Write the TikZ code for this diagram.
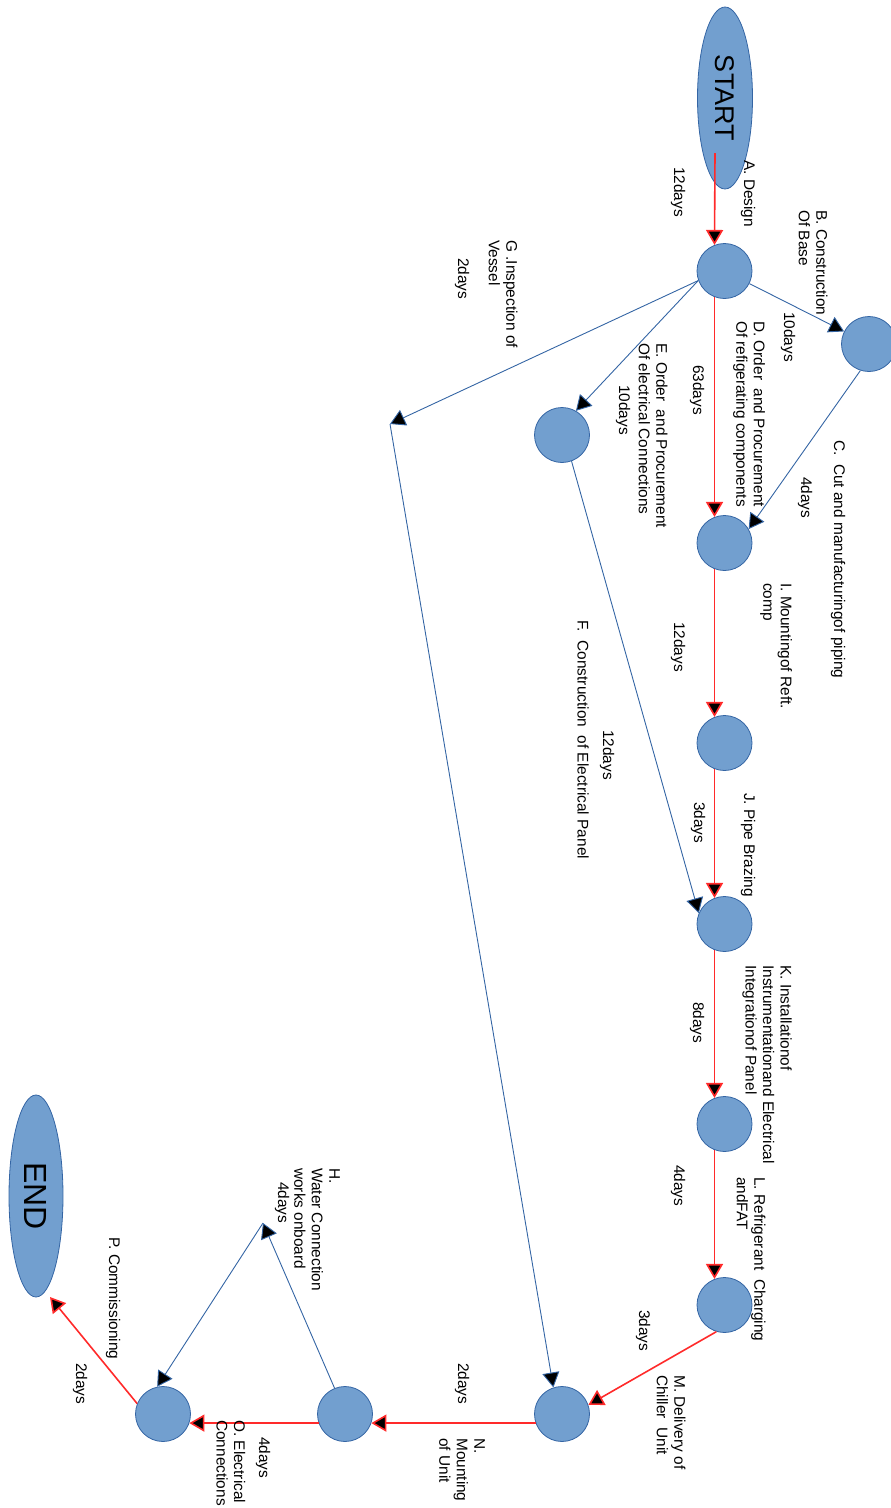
\documentclass[tikz,border=0pt]{standalone}
\usepackage{fontspec}
\setmainfont{Liberation Sans}
\usetikzlibrary{arrows.meta,shapes.geometric}
\definecolor{nodefill}{HTML}{729FCF}
\definecolor{nodeline}{HTML}{3465A4}
\definecolor{critred}{HTML}{FF2A2A}
\newcommand\lblsize{\fontsize{15.4}{17.5}\selectfont}
\begin{document}
\begin{tikzpicture}[x=1pt,y=-1pt,
  event/.style={circle,fill=nodefill,draw=nodeline,line width=0.8pt,minimum size=55pt,inner sep=0pt},
  terminal/.style={ellipse,fill=nodefill,draw=nodeline,line width=0.8pt,inner sep=0pt,rotate=-90},
  lbl/.style={rotate=-90,anchor=west,align=left,inner sep=0pt,font=\lblsize},
  crit/.style={draw=critred,line width=1.6pt,-{Triangle[length=15pt,width=17pt,fill=black]}},
  task/.style={draw=nodeline,line width=0.9pt,-{Triangle[length=15pt,width=17pt,fill=black]}}
]
\useasboundingbox (0,0) rectangle (891,1508);

% terminals
\node[terminal,minimum width=182pt,minimum height=55pt,font=\fontsize{27}{30}\selectfont] (start) at (725,98) {START};
\node[terminal,minimum width=202pt,minimum height=54pt,font=\fontsize{32}{34}\selectfont] (finish) at (36,1196) {END};

% events
\node[event] (n1) at (724.5,271) {};
\node[event] (nb) at (869,344) {};
\node[event] (nd) at (724.5,543) {};
\node[event] (ne) at (562,435) {};
\node[event] (nj) at (724.5,743) {};
\node[event] (nk) at (724.5,924) {};
\node[event] (nl) at (724.5,1124) {};
\node[event] (nm) at (724.5,1305) {};
\node[event] (nn) at (562,1414) {};
\node[event] (no) at (345,1414) {};
\node[event] (np) at (163,1414) {};

% free ends of dummy paths
\coordinate (gpt) at (390,424);
\coordinate (hpt) at (263,1223);
\coordinate (endtip) at ([xshift=14pt,yshift=-101pt]finish.center);

% critical path
\draw[crit] ([xshift=-10pt,yshift=-55pt]start.center) -- (n1.111);
\draw[crit] (n1.249) -- (nd.111);
\draw[crit] (nd.249) -- (nj.111);
\draw[crit] (nj.249) -- (nk.111);
\draw[crit] (nk.249) -- (nl.111);
\draw[crit] (nl.249) -- (nm.111);
\draw[crit] (nm.253) -- (nn.19);
\draw[crit] (nn.199) -- (no.341);
\draw[crit] (no.199) -- (np.341);
\draw[crit] (np.158) -- (endtip);

% other activities
\draw[task] (n1) -- (nb);
\draw[task] (nb.252) -- (nd.30);
\draw[task] (n1.200) -- (ne.60);
\draw[task] (ne.290) -- (nk.157);
\draw[task] (n1.200) -- (gpt);
\draw[task] (gpt) -- (nn.108);
\draw[task] (no.112) -- (hpt);
\draw[task] (hpt) -- (np.102);

% activity labels
\node[lbl] (la) at (748,160) {A. Design};
\node[lbl] (da) at (678,167) {12days};
\node[lbl] (lb) at (813,210) {B. Construction\\Of Base};
\node[lbl] (db) at (788,312) {10days};
\node[lbl] (ld) at (749,321) {D. Order\ \ and Procurement\\Of refigerating components};
\node[lbl] (dd) at (697,365) {63days};
\node[lbl] (le) at (653,343) {E. Order\ \ and Procurement\\Of electrical Connections};
\node[lbl] (de) at (623,385) {10days};
\node[lbl] (lg) at (503,240) {G .Inspection of\\Vessel};
\node[lbl] (dg) at (462,258) {2days};
\node[lbl] (lc) at (838,440) {C.\ \ Cut and manufacturingof piping};
\node[lbl] (dc) at (805,477) {4days};
\node[lbl] (li) at (776,583) {I. Mountingof Reft.\\comp};
\node[lbl] (di) at (678,622) {12days};
\node[lbl] (df) at (607,730) {12days};
\node[lbl] (lf) at (583,620) {F.\ \ Construction\ \ of Electrical Panel};
\node[lbl] (lj) at (748,793) {J. Pipe Brazing};
\node[lbl] (dj) at (698,802) {3days};
\node[lbl] (lk) at (767,965) {K. Installationof\\Instrumentationand Electrical\\Integrationof Panel};
\node[lbl] (dk) at (697,1002) {8days};
\node[lbl] (ll) at (751,1177) {L. Refrigerant\ \ Charging\\andFAT};
\node[lbl] (dl) at (678,1165) {4days};
\node[lbl] (dm) at (643,1310) {3days};
\node[lbl] (lm) at (671,1375) {M. Delivery of\\Chiller\ \ Unit};
\node[lbl] (dn) at (462,1363) {2days};
\node[lbl] (ln) at (462,1438) {N.\\Mounting\\of Unit};
\node[lbl] (do) at (263,1437) {4days};
\node[lbl] (lo) at (231,1420) {O. Electrical\\Connections};
\node[lbl] (lh) at (317,1168) {H.\\Water Connection\\works onboard};
\node[lbl] (dh) at (282,1182) {4days};
\node[lbl] (lp) at (113,1237) {P. Commissioning};
\node[lbl] (dp) at (80,1363) {2days};
\end{tikzpicture}
\end{document}
